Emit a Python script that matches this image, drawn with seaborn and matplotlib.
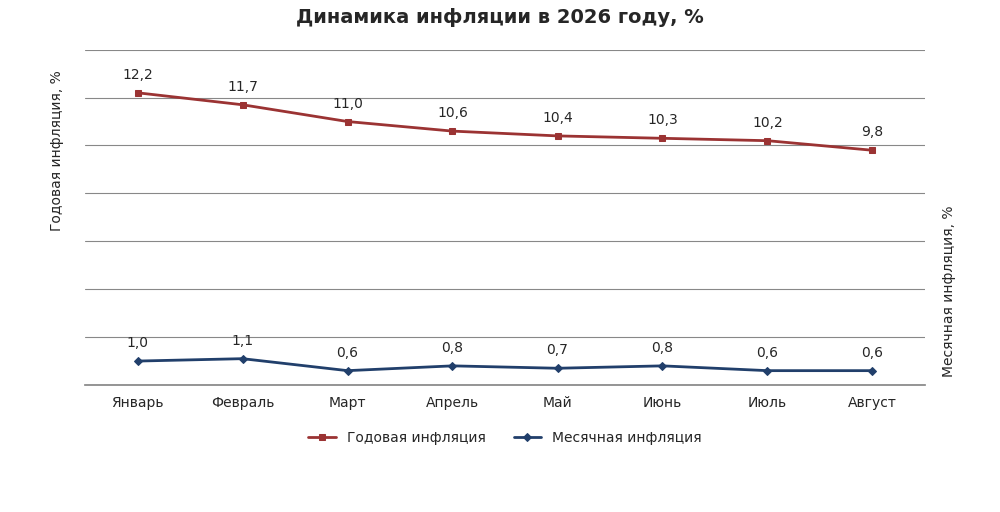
import matplotlib
matplotlib.use("Agg")
import matplotlib.pyplot as plt
import seaborn as sns
import pandas as pd

months = ["Январь", "Февраль", "Март", "Апрель", "Май", "Июнь", "Июль", "Август"]
annual = [12.2, 11.7, 11.0, 10.6, 10.4, 10.3, 10.2, 9.8]
monthly = [1.0, 1.1, 0.6, 0.8, 0.7, 0.8, 0.6, 0.6]

sns.set_theme(style="white")
plt.rcParams['font.family'] = ['DejaVu Sans']

fig = plt.figure(figsize=(10, 5.12), dpi=100)
ax = fig.add_axes([0.085, 0.248, 0.84, 0.655])
df = pd.DataFrame({"x": range(len(months)), "a": annual, "m": monthly})
red = "#9B3333"
blue = "#213F6B"
sns.lineplot(data=df, x="x", y="a", ax=ax, color=red, marker="s", markersize=5,
             markeredgecolor=red, linewidth=2, label="Годовая инфляция")
sns.lineplot(data=df, x="x", y="m", ax=ax, color=blue, marker="D", markersize=4,
             markeredgecolor=blue, linewidth=2, label="Месячная инфляция")
ax.set_xlim(-0.5, 7.5)
ax.set_ylim(0, 14)
ax.set_yticks(range(0, 15, 2))
ax.set_yticklabels([])
ax.tick_params(axis="y", length=0)
ax.grid(axis="y", color="#888888", linewidth=0.8)
for s in ["top", "left", "right"]:
    ax.spines[s].set_visible(False)
ax.spines["bottom"].set_color("#888888")
ax.set_xticks(range(len(months)))
ax.set_xticklabels(months, fontsize=10)
ax.tick_params(axis="x", length=0, pad=8)
ax.set_xlabel("")
ax.set_ylabel("Годовая инфляция, %", fontsize=10)
ax.yaxis.set_label_coords(-0.025, 0.7)
fmt = lambda v: f"{v:.1f}".replace(".", ",")
for i, (a, m) in enumerate(zip(annual, monthly)):
    ax.annotate(fmt(a), (i, a), xytext=(0, 10), textcoords="offset points", ha="center", fontsize=10)
    ax.annotate(fmt(m), (i, m), xytext=(0, 10), textcoords="offset points", ha="center", fontsize=10)
ax2 = ax.twinx()
ax2.set_ylim(0, 14)
ax2.set_yticks([])
for s in ax2.spines.values():
    s.set_visible(False)
ax2.set_ylabel("Месячная инфляция, %", fontsize=10)
ax2.yaxis.set_label_coords(1.02, 0.28)
ax.legend(loc="upper center", bbox_to_anchor=(0.5, -0.1), ncol=2, frameon=False, fontsize=10)
fig.suptitle("Динамика инфляции в 2026 году, %", fontsize=14, fontweight="bold", y=0.985)
fig.savefig("out.png", dpi=100)
